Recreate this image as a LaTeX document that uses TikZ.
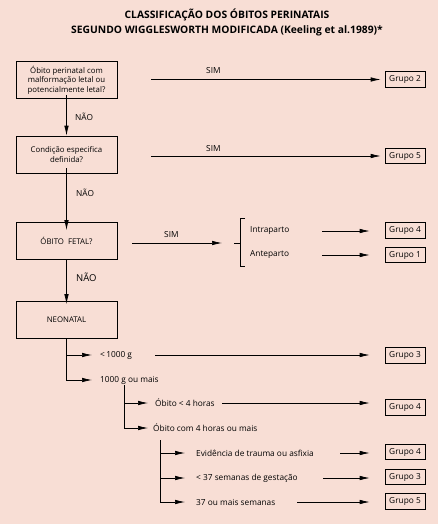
\documentclass[tikz,border=0pt]{standalone}
\usepackage{fontspec}
\setmainfont{Open Sans}
\usetikzlibrary{arrows.meta}
\definecolor{bg}{HTML}{F8DED5}
\begin{document}
\begin{tikzpicture}[x=1pt,y=-1pt,
  font=\fontsize{8.3}{9.8}\selectfont,
  qbox/.style={draw, line width=0.7pt, minimum width=101pt, minimum height=37pt, align=center, inner sep=1pt, font=\fontsize{7.8}{9.6}\selectfont},
  gbox/.style={draw, line width=0.7pt, minimum width=40pt, minimum height=15.5pt, inner sep=1pt},
  arr/.style={-{Latex[length=10pt,width=4.5pt]}, line width=0.7pt},
  lbl/.style={anchor=west, inner sep=0pt},
  ln/.style={line width=0.7pt}]
\fill[bg] (0,0) rectangle (438,524);
\useasboundingbox (0,0) rectangle (438,524);
% title
\node[font=\fontsize{10.3}{15}\selectfont\bfseries, align=center] (title) at (227,22.5)
  {CLASSIFICAÇÃO DOS ÓBITOS PERINATAIS\\SEGUNDO WIGGLESWORTH MODIFICADA (Keeling et al.1989)*};
% question boxes
\node[qbox] (q1) at (66.5,80) {Óbito perinatal com\\malformação letal ou\\potencialmente letal?};
\node[qbox] (q2) at (66.5,154.5) {Condição especifica\\definida?};
\node[qbox] (q3) at (66.5,241) {ÓBITO\ \ FETAL?};
\node[qbox] (q4) at (66.5,320) {NEONATAL};
% group boxes
\node[gbox] (g2) at (405,79.5) {Grupo 2};
\node[gbox] (g5a) at (405,156) {Grupo 5};
\node[gbox] (g4a) at (405,230.5) {Grupo 4};
\node[gbox] (g1) at (405,255) {Grupo 1};
\node[gbox] (g3a) at (405,355.5) {Grupo 3};
\node[gbox] (g4b) at (405,407.5) {Grupo 4};
\node[gbox] (g4c) at (405,452) {Grupo 4};
\node[gbox] (g3b) at (405,477) {Grupo 3};
\node[gbox] (g5b) at (405,501.5) {Grupo 5};
% SIM arrows
\draw[arr] (151,0 |- g2) -- ([xshift=-4pt]g2.west);
\node[lbl] (s1) at (206,71) {SIM};
\draw[arr] (151,0 |- g5a) -- ([xshift=-4pt]g5a.west);
\node[lbl] (s2) at (206,148.5) {SIM};
% NAO arrows
\draw[arr] ([yshift=4pt]q1.south) -- (q2.north);
\node[lbl] (n1a) at (75,117) {NÃO};
\draw[arr] ([yshift=5pt]q2.south) -- ([yshift=-8pt]q3.north);
\node[lbl] (n2a) at (76,193) {NÃO};
\draw[arr] (q3.south) -- ([yshift=-3pt]q4.north);
\node[lbl, font=\fontsize{9.5}{11}\selectfont] (n3a) at (76,277) {NÃO};
% fetal branch
\coordinate (br) at (234,243);
\draw[arr] ([xshift=15pt]q3.east |- br) -- ([xshift=-12pt]br);
\node[lbl] (s3) at (164,235) {SIM};
\draw[ln] (245,218) -- (240,218) -- (240,266) -- (245,266);
\draw[ln] (br) -- (240,243);
\node[lbl] (ip) at (250,231) {Intraparto};
\node[lbl] (ap) at (250,255) {Anteparto};
\draw[arr] (322,0 |- ip) -- ([xshift=-15pt]g4a.west |- ip);
\draw[arr] (322,0 |- ap) -- ([xshift=-15pt]g1.west |- ap);
% neonatal tree
\node[lbl] (w1) at (100,355) {<\,1000 g};
\node[lbl] (w2) at (100,380) {1000 g ou mais};
\draw[arr] (q4.south) |- (92,0 |- w1);
\draw[arr] (q4.south) |- (92,0 |- w2);
\draw[arr] (155,0 |- w1) -- ([xshift=-15pt]g3a.west |- w1);
\coordinate (t2) at (124,385);
\node[lbl] (h1) at (155,403) {Óbito < 4 horas};
\node[lbl] (h2) at (153,428) {Óbito com 4 horas ou mais};
\draw[arr] (t2) |- (148,0 |- h1);
\draw[arr] (t2) |- (148,0 |- h2);
\draw[arr] (222,0 |- h1) -- ([xshift=-15pt]g4b.west |- h1);
\coordinate (t3) at (160,440);
\node[lbl] (e1) at (196,453) {Evidência de trauma ou asfixia};
\node[lbl] (e2) at (196,478) {< 37 semanas de gestação};
\node[lbl] (e3) at (196,502) {37 ou mais semanas};
\draw[arr] (t3) |- (185,0 |- e1);
\draw[arr] (t3) |- (185,0 |- e2);
\draw[arr] (t3) |- (185,0 |- e3);
\draw[arr] (340,0 |- e1) -- ([xshift=-15pt]g4c.west |- e1);
\draw[arr] (323,0 |- e2) -- ([xshift=-15pt]g3b.west |- e2);
\draw[arr] (297,0 |- e3) -- ([xshift=-15pt]g5b.west |- e3);
\end{tikzpicture}
\end{document}
